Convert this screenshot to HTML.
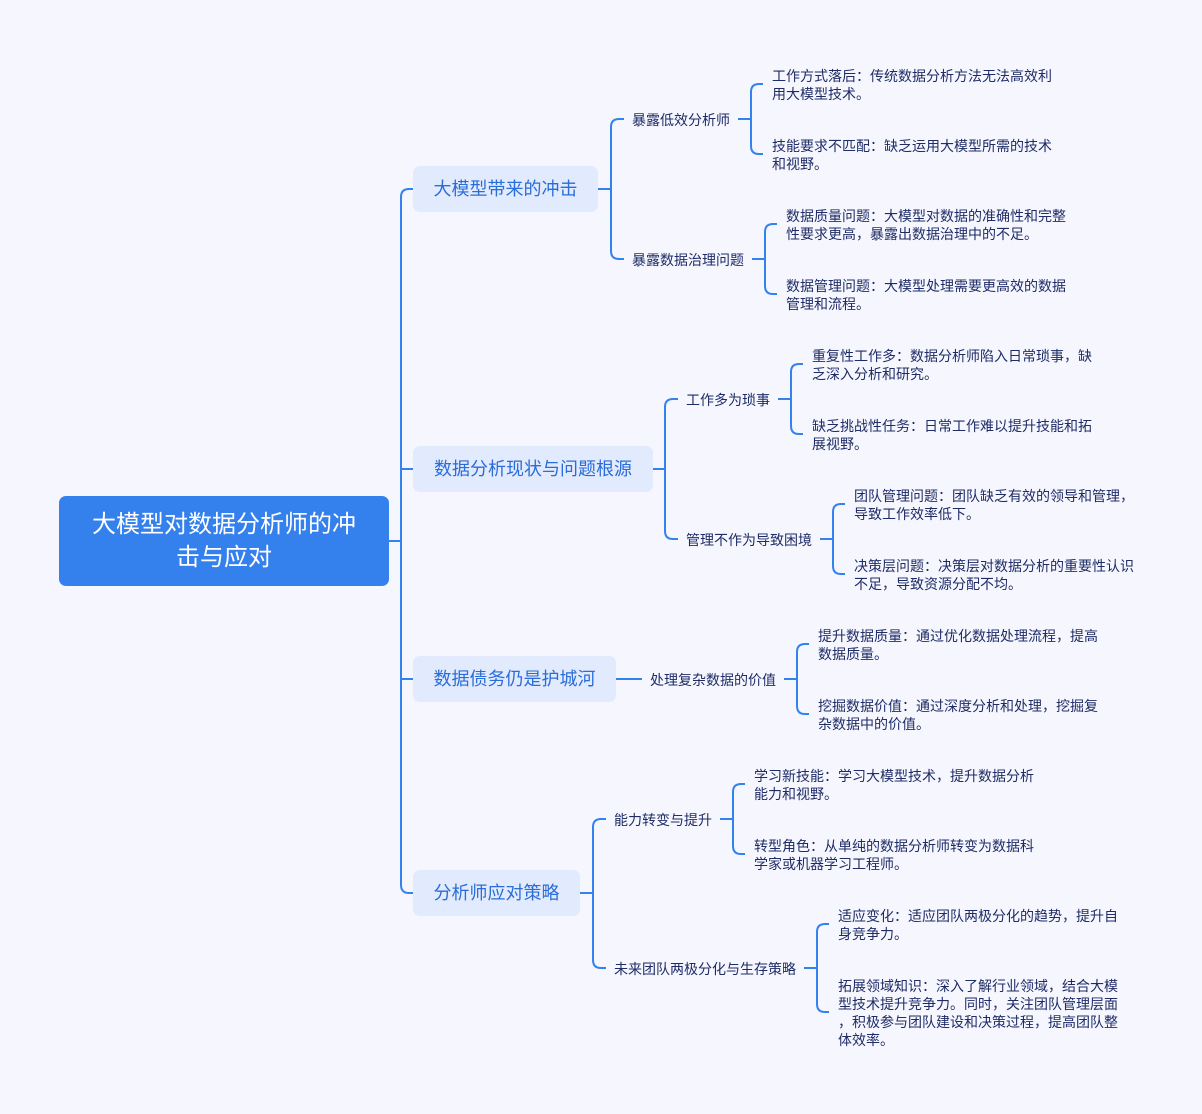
<!DOCTYPE html>
<html><head><meta charset="utf-8"><style>
body{margin:0;width:1202px;height:1114px;background:#f5f6fe;position:relative;overflow:hidden;font-family:"Liberation Sans","Noto Sans CJK SC",sans-serif}
.root{position:absolute;left:59px;top:496px;width:330px;height:90px;background:#3481ed;border-radius:7px;color:#fff;font-size:24px;line-height:33px;text-align:center;display:flex;align-items:center;justify-content:center}
.l1{position:absolute;height:46px;line-height:47px;background:#e2eafd;border-radius:7px;color:#2a6dd8;font-size:18px;text-align:center;white-space:nowrap}
.t{position:absolute;font-size:14px;line-height:18px;color:#1f2c66;white-space:nowrap}
svg{position:absolute;left:0;top:0}
</style></head><body>
<svg width="1202" height="1114" fill="none" stroke="#3482ee" stroke-width="2">
<path d="M389 541H401"/>
<path d="M413 189H409Q401 189 401 197V885Q401 893 409 893H413"/>
<path d="M401 469H413M401 679H413"/>
<path d="M598 189H611"/>
<path d="M624 119H619Q611 119 611 127V251Q611 259 619 259H624"/>
<path d="M738 119H751"/>
<path d="M763 84H759Q751 84 751 92V146Q751 154 759 154H763"/>
<path d="M752 259H765"/>
<path d="M777 224H773Q765 224 765 232V286Q765 294 773 294H777"/>
<path d="M653 469H665"/>
<path d="M678 399H673Q665 399 665 407V531Q665 539 673 539H678"/>
<path d="M778 399H791"/>
<path d="M803 364H799Q791 364 791 372V426Q791 434 799 434H803"/>
<path d="M820 539H833"/>
<path d="M845 504H841Q833 504 833 512V566Q833 574 841 574H845"/>
<path d="M616 679H642"/>
<path d="M784 679H797"/>
<path d="M809 644H805Q797 644 797 652V706Q797 714 805 714H809"/>
<path d="M580 893H593"/>
<path d="M606 819H601Q593 819 593 827V960Q593 968 601 968H606"/>
<path d="M720 819H733"/>
<path d="M745 784H741Q733 784 733 792V846Q733 854 741 854H745"/>
<path d="M804 968H817"/>
<path d="M829 924H825Q817 924 817 932V1004Q817 1012 825 1012H829"/>
</svg>
<div class="root">大模型对数据分析师的冲<br>击与应对</div>
<div class="l1" style="left:413px;top:166px;width:185px">大模型带来的冲击</div>
<div class="l1" style="left:413px;top:446px;width:240px">数据分析现状与问题根源</div>
<div class="l1" style="left:413px;top:656px;width:203px">数据债务仍是护城河</div>
<div class="l1" style="left:413px;top:870px;width:167px">分析师应对策略</div>

<div class="t" style="left:632px;top:111px">暴露低效分析师</div>
<div class="t" style="left:632px;top:251px">暴露数据治理问题</div>
<div class="t" style="left:772px;top:67px">工作方式落后：传统数据分析方法无法高效利<br>用大模型技术。</div>
<div class="t" style="left:772px;top:137px">技能要求不匹配：缺乏运用大模型所需的技术<br>和视野。</div>
<div class="t" style="left:786px;top:207px">数据质量问题：大模型对数据的准确性和完整<br>性要求更高，暴露出数据治理中的不足。</div>
<div class="t" style="left:786px;top:277px">数据管理问题：大模型处理需要更高效的数据<br>管理和流程。</div>

<div class="t" style="left:686px;top:391px">工作多为琐事</div>
<div class="t" style="left:686px;top:531px">管理不作为导致困境</div>
<div class="t" style="left:812px;top:347px">重复性工作多：数据分析师陷入日常琐事，缺<br>乏深入分析和研究。</div>
<div class="t" style="left:812px;top:417px">缺乏挑战性任务：日常工作难以提升技能和拓<br>展视野。</div>
<div class="t" style="left:854px;top:487px">团队管理问题：团队缺乏有效的领导和管理，<br>导致工作效率低下。</div>
<div class="t" style="left:854px;top:557px">决策层问题：决策层对数据分析的重要性认识<br>不足，导致资源分配不均。</div>

<div class="t" style="left:650px;top:671px">处理复杂数据的价值</div>
<div class="t" style="left:818px;top:627px">提升数据质量：通过优化数据处理流程，提高<br>数据质量。</div>
<div class="t" style="left:818px;top:697px">挖掘数据价值：通过深度分析和处理，挖掘复<br>杂数据中的价值。</div>

<div class="t" style="left:614px;top:811px">能力转变与提升</div>
<div class="t" style="left:614px;top:960px">未来团队两极分化与生存策略</div>
<div class="t" style="left:754px;top:767px">学习新技能：学习大模型技术，提升数据分析<br>能力和视野。</div>
<div class="t" style="left:754px;top:837px">转型角色：从单纯的数据分析师转变为数据科<br>学家或机器学习工程师。</div>
<div class="t" style="left:838px;top:907px">适应变化：适应团队两极分化的趋势，提升自<br>身竞争力。</div>
<div class="t" style="left:838px;top:977px">拓展领域知识：深入了解行业领域，结合大模<br>型技术提升竞争力。同时，关注团队管理层面<br>，积极参与团队建设和决策过程，提高团队整<br>体效率。</div>
</body></html>
